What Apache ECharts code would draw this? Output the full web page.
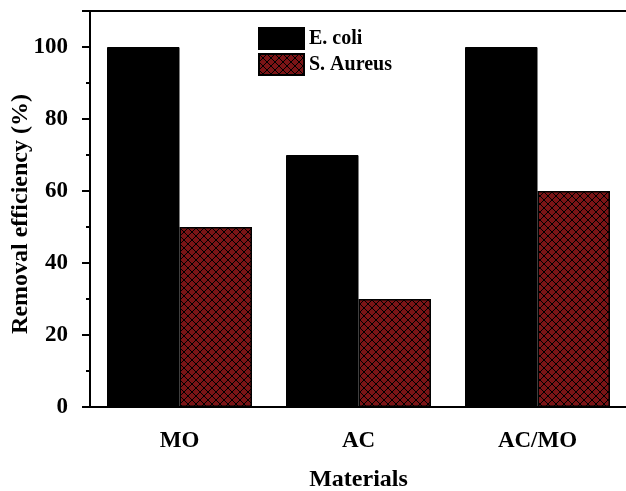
<!DOCTYPE html>
<html><head><meta charset="utf-8">
<script src="https://cdn.jsdelivr.net/npm/echarts@6/dist/echarts.min.js"></script>
<style>html,body{margin:0;padding:0;background:#fff}#c{width:626px;height:491px}</style>
</head><body><div id="c"></div>
<script>
var categories = ['MO', 'AC', 'AC/MO'];
var ecoli = [100, 70, 100];
var saureus = [50, 30, 60];
var seriesNames = ['E. coli', 'S. Aureus'];

var cv = document.createElement('canvas');
cv.width = 8; cv.height = 8;
var ctx = cv.getContext('2d');
ctx.fillStyle = '#7b1416';
ctx.fillRect(0, 0, 8, 8);
ctx.strokeStyle = '#000';
ctx.lineWidth = 1;
ctx.beginPath();
ctx.moveTo(0, 0); ctx.lineTo(8, 8);
ctx.moveTo(0, 8); ctx.lineTo(8, 0);
ctx.stroke();

var font = '"Liberation Serif", "Times New Roman", serif';
var chart = echarts.init(document.getElementById('c'));
chart.setOption({
  animation: false,
  grid: {left: 90, top: 11, width: 537, height: 396, containLabel: false, outerBoundsMode: 'none'},
  legend: {
    orient: 'vertical', left: 258, top: 27, padding: 0, itemWidth: 45, itemHeight: 21, itemGap: 3,
    icon: 'rect',
    textStyle: {fontFamily: font, fontWeight: 'bold', fontSize: 20, color: '#000'},
    data: seriesNames
  },
  xAxis: {
    type: 'category', data: categories,
    axisLine: {lineStyle: {color: '#000', width: 2}},
    axisTick: {alignWithLabel: true, length: 10, lineStyle: {width: 2, color: '#000'}},
    axisLabel: {margin: 23, fontFamily: font, fontWeight: 'bold', fontSize: 23, color: '#000'},
    name: 'Materials', nameLocation: 'middle', nameGap: 61, nameMoveOverlap: false,
    nameTextStyle: {fontFamily: font, fontWeight: 'bold', fontSize: 24, color: '#000'}
  },
  yAxis: {
    type: 'value', min: 0, max: 110, interval: 20,
    axisLine: {show: true, lineStyle: {color: '#000', width: 2}},
    axisTick: {show: true, length: 8, lineStyle: {width: 2, color: '#000'}},
    minorTick: {show: true, splitNumber: 2, length: 4, lineStyle: {width: 2, color: '#000'}},
    splitLine: {show: false},
    axisLabel: {margin: 22, fontFamily: font, fontWeight: 'bold', fontSize: 23, color: '#000',
      showMaxLabel: false},
    name: 'Removal efficiency (%)', nameLocation: 'middle', nameGap: 57, nameMoveOverlap: false,
    nameTextStyle: {fontFamily: font, fontWeight: 'bold', fontSize: 24, color: '#000', padding: [0, 10, 0, 0]}
  },
  series: [
    {name: seriesNames[0], type: 'bar', data: ecoli, barGap: '0%', barCategoryGap: '19%',
     itemStyle: {color: '#000', borderColor: '#000', borderWidth: 1}},
    {name: seriesNames[1], type: 'bar', data: saureus,
     itemStyle: {color: {image: cv, repeat: 'repeat'}, borderColor: '#000', borderWidth: 1.5}}
  ]
});
chart.setOption({
  graphic: [{type: 'line', shape: {x1: 89, y1: 11, x2: 626, y2: 11}, style: {stroke: '#000', lineWidth: 2}}]
});
</script></body></html>
